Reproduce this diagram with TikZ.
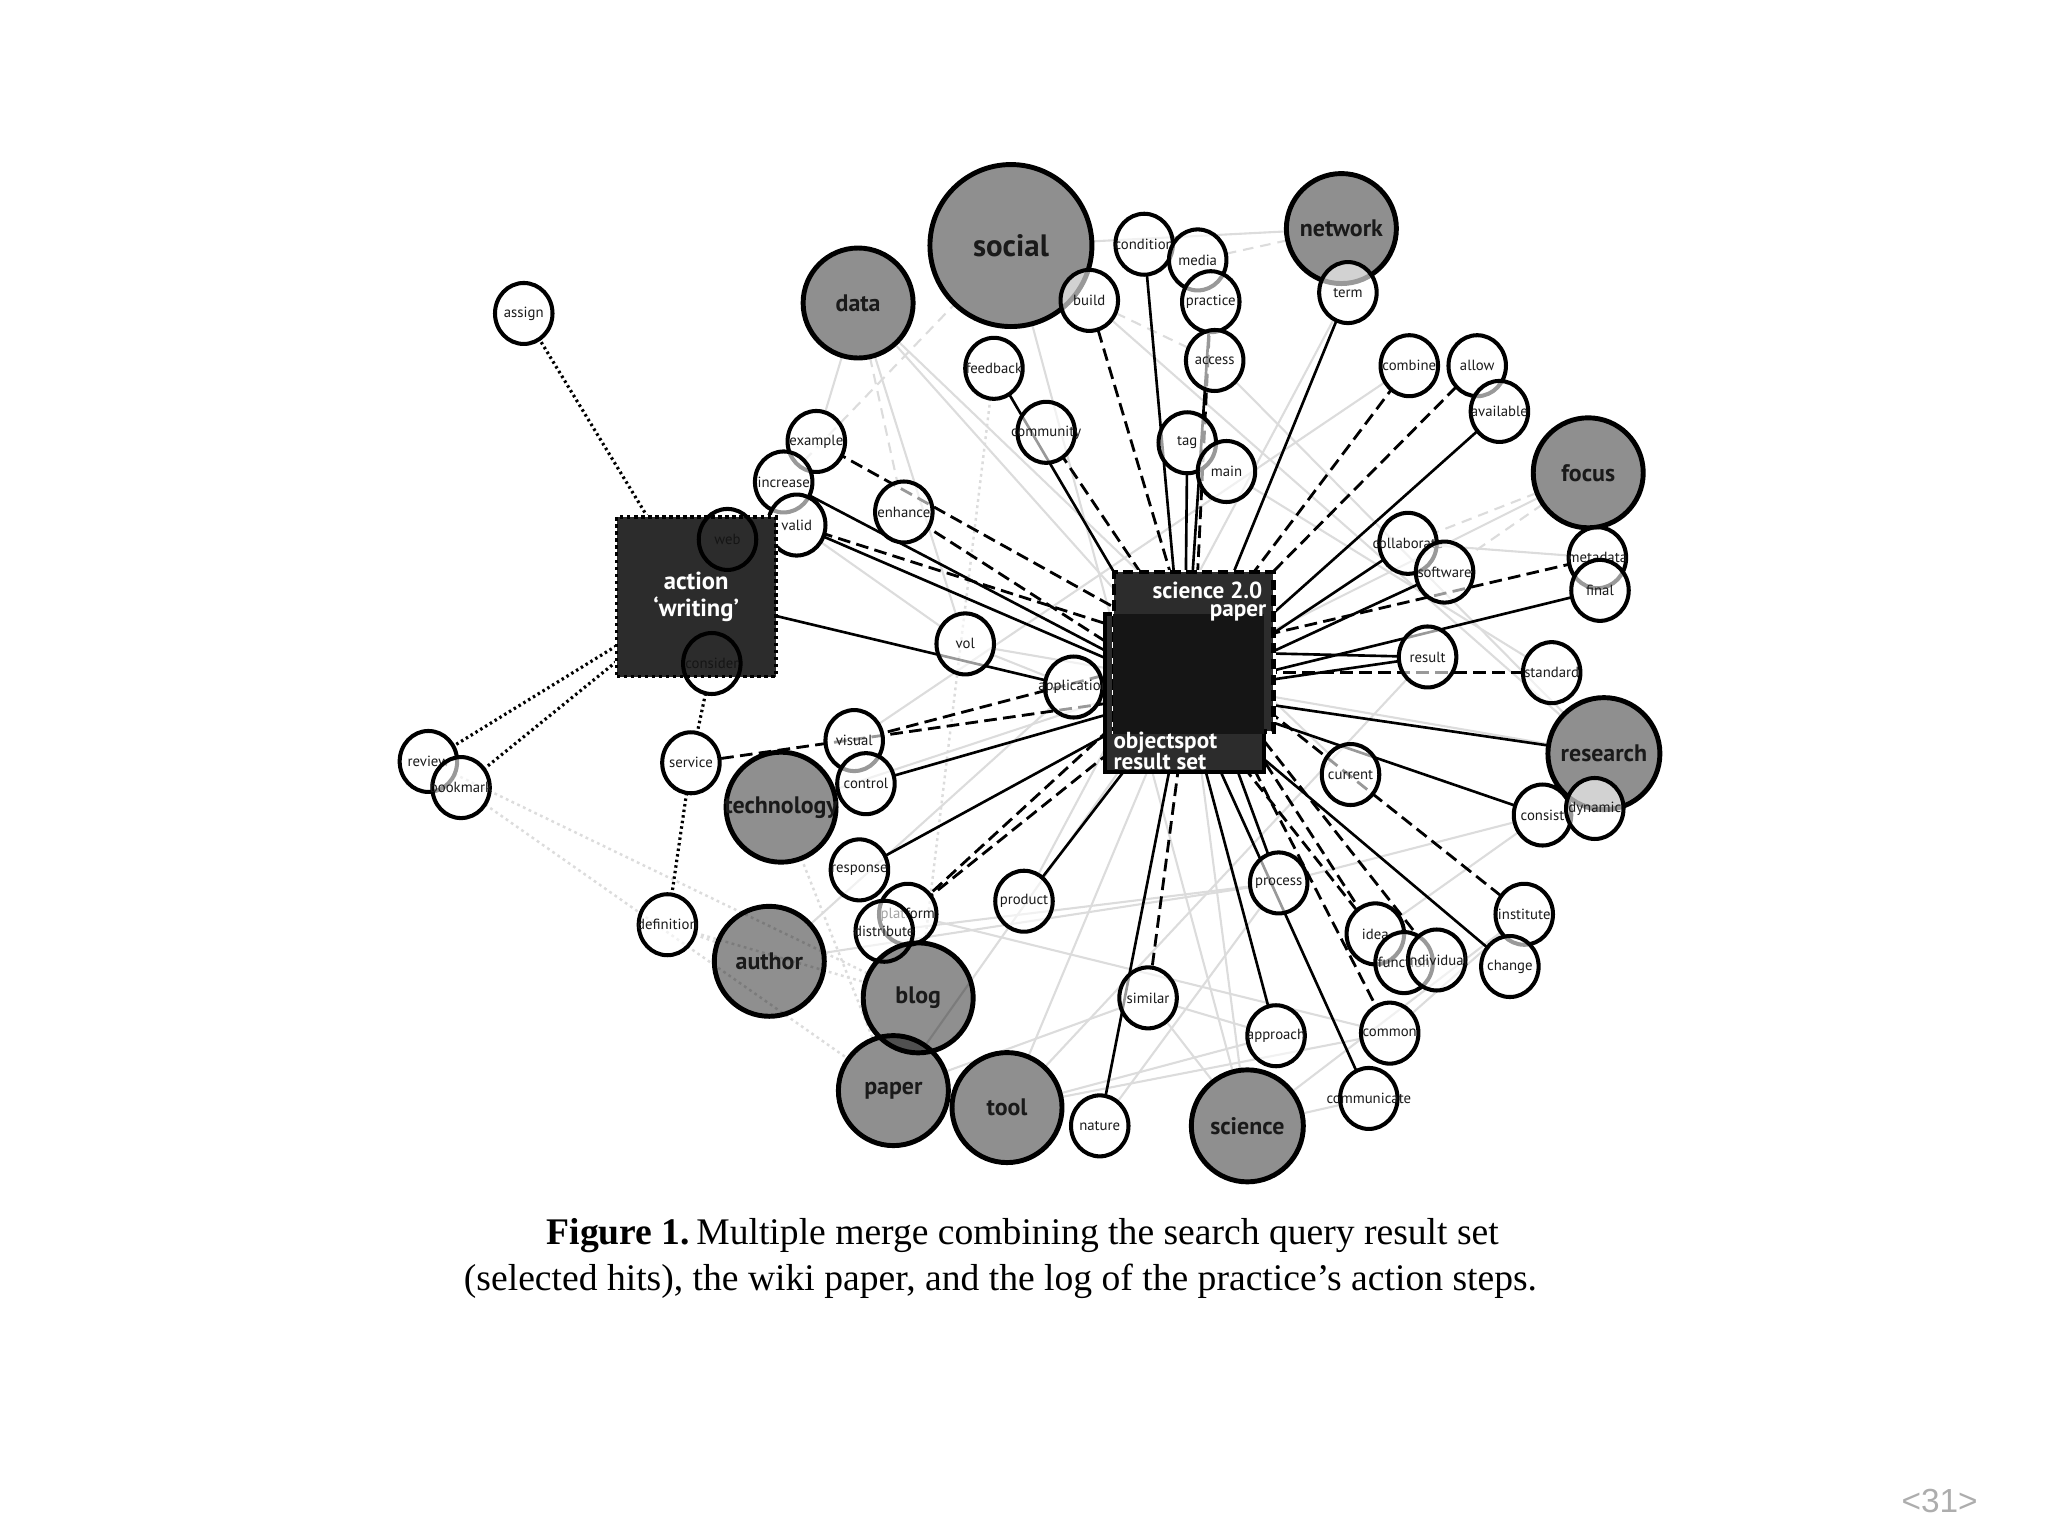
\documentclass[tikz,border=0pt]{standalone}
\usepackage{fontspec}
\setmainfont{Liberation Serif}
\newfontfamily\netfont{PT Sans}
\newfontfamily\pagefont{Liberation Sans}
\usetikzlibrary{shapes.geometric}
\definecolor{ink}{HTML}{1A1A1A}
\definecolor{boxgrey}{HTML}{2C2C2C}
\definecolor{overlapgrey}{HTML}{151515}
\definecolor{faintgrey}{HTML}{DCDCDC}
\definecolor{pagegrey}{HTML}{ADADAD}
\pgfdeclarelayer{links}
\pgfsetlayers{links,main}

\begin{document}
\begin{tikzpicture}[x=0.01306cm, y=-0.01306cm,
  zerobox/.style={execute at begin node={\hbox to 0pt\bgroup\hss},
                  execute at end node={\hss\egroup}},
  hit/.style={zerobox, ellipse, draw=black, line width=1.15pt, fill=white,
              fill opacity=0.6, text opacity=1, text=ink, inner sep=0pt, outer sep=0pt,
              minimum width=5.75mm, minimum height=6.1mm,
              font=\netfont\fontsize{4.2}{5}\selectfont},
  hiddenhit/.style={hit, fill=none, text=overlapgrey},
  topic/.style={zerobox, circle, draw=black, line width=1.4pt, fill=black,
                fill opacity=0.44, text opacity=1, text=ink, inner sep=0pt, outer sep=0pt,
                minimum size=11mm, font=\netfont\bfseries\fontsize{6.8}{7}\selectfont},
  solidlink/.style={black, line width=0.75pt},
  dashlink/.style={black, line width=0.8pt, dash pattern=on 3.6pt off 1.8pt},
  dotlink/.style={black, line width=0.9pt, dash pattern=on 0.7pt off 0.9pt},
  greylink/.style={faintgrey, line width=0.6pt},
  greydash/.style={faintgrey, line width=0.6pt, dash pattern=on 3pt off 2pt},
  greydot/.style={faintgrey, line width=0.7pt, dash pattern=on 0.8pt off 1pt},
  actionbox/.style={rectangle, fill=boxgrey, draw=black, line width=1.1pt,
                    dash pattern=on 1pt off 1pt, preaction={draw=white, solid, line width=1.1pt},
                    minimum size=15.93mm, inner sep=0pt, outer sep=0pt, text=white, align=center,
                    font=\netfont\bfseries\fontsize{7}{7.8}\selectfont},
  paperbox/.style={rectangle, fill=boxgrey, draw=black, line width=1.2pt,
                   dash pattern=on 3pt off 1.5pt, preaction={draw=white, solid, line width=1.2pt},
                   minimum size=15.93mm, inner sep=0pt, outer sep=0pt},
  resultbox/.style={rectangle, fill=boxgrey, draw=black, line width=1.2pt,
                    minimum width=15.93mm, minimum height=15.8mm, inner sep=0pt, outer sep=0pt},
  boxlabel/.style={text=white, inner sep=0pt, font=\netfont\bfseries\fontsize{6.6}{7}\selectfont},
  captext/.style={inner sep=0pt, text=black, font=\fontsize{10.7}{12}\selectfont},
  pagemark/.style={inner sep=0pt, text=pagegrey, font=\pagefont\fontsize{9.5}{10}\selectfont}]

  \useasboundingbox (0,0) rectangle (1568,1176);

  % --- topic circles (grey) ---
  \node[topic, minimum size=16.2mm, font=\netfont\bfseries\fontsize{8.8}{9}\selectfont]
        (social) at (774,188) {social};
  \node[topic] (data)       at (657,232) {data};
  \node[topic] (network)    at (1027,175) {network};
  \node[topic] (focus)      at (1216,362) {focus};
  \node[topic, minimum size=11.2mm] (research) at (1228,577) {research};
  \node[topic] (technology) at (598,618) {technology};
  \node[topic] (author)     at (589,736) {author};
  \node[topic] (tool)       at (771,848) {tool};
  \node[topic, minimum size=11.2mm] (science) at (955,862) {science};

  % --- word circles, upper half ---
  \node[hit] (assign)      at (401,240) {assign};
  \node[hit] (example)     at (625,338) {example};
  \node[hit] (increase)    at (600,369) {increase};
  \node[hit] (valid)       at (610,402) {valid};
  \node[hit] (enhance)     at (692,392) {enhance};
  \node[hit] (feedback)    at (761,282) {feedback};
  \node[hit] (community)   at (801,331) {community};
  \node[hit] (build)       at (834,230) {build};
  \node[hit] (condition)   at (876,187) {condition};
  \node[hit] (media)       at (917,199) {media};
  \node[hit] (practice)    at (927,231) {practice};
  \node[hit] (access)      at (930,276) {access};
  \node[hit] (tag)         at (909,339) {tag};
  \node[hit] (main)        at (939,361) {main};
  \node[hit] (term)        at (1032,224) {term};
  \node[hit] (combine)     at (1079,280) {combine};
  \node[hit] (allow)       at (1131,280) {allow};
  \node[hit] (available)   at (1148,315) {available};
  \node[hit] (collaborate) at (1078,416) {collaborate};
  \node[hit] (software)    at (1106,438) {software};
  \node[hit] (metadata)    at (1223,427) {metadata};
  \node[hit] (final)       at (1225,452) {final};
  \node[hit] (result)      at (1093,503) {result};
  \node[hit] (standard)    at (1188,515) {standard};
  \node[hit] (vol)         at (739,493) {vol};
  \node[hit] (application) at (822,526) {application};

  % --- word circles, lower half ---
  \node[hit] (review)      at (328,583) {review};
  \node[hit] (bookmark)    at (353,603) {bookmark};
  \node[hit] (service)     at (529,584) {service};
  \node[hit] (visual)      at (654,567) {visual};
  \node[hit] (control)     at (663,600) {control};
  \node[hit] (current)     at (1034,593) {current};
  \node[hit] (consist)     at (1181,624) {consist};
  \node[hit] (dynamic)     at (1221,619) {dynamic};
  \node[hit] (response)    at (658,666) {response};
  \node[hit] (platform)    at (695,700) {platform};
  \node[hit] (distribute)  at (677,713) {distribute};
  \node[topic] (blog)      at (703,764) {blog};
  \node[topic] (paper)     at (684,835) {paper};
  \node[hit] (product)     at (784,690) {product};
  \node[hit] (process)     at (979,676) {process};
  \node[hit] (institute)   at (1167,700) {institute};
  \node[hit] (idea)        at (1053,715) {idea};
  \node[hit] (function)    at (1075,737) {function};
  \node[hit] (individual)  at (1100,735) {individual};
  \node[hit] (change)      at (1156,740) {change};
  \node[hit] (definition)  at (511,708) {definition};
  \node[hit] (similar)     at (879,764) {similar};
  \node[hit] (approach)    at (977,793) {approach};
  \node[hit] (common)      at (1064,791) {common};
  \node[hit] (communicate) at (1048,841) {communicate};
  \node[hit] (nature)      at (842,862) {nature};

  % --- action log box, with the two words it hides ---
  \node[actionbox] (action) at (533,457) {action\\‘writing’};
  \node[hiddenhit] (web)      at (557,413) {web};
  \node[hiddenhit] (consider) at (545,508) {consider};

  % --- merged boxes: search result set and wiki paper ---
  \node[resultbox] (objectspot) at (907,530.5) {};
  \node[paperbox] (sciencepaper) at (914,499) {};
  \fill[overlapgrey] (852,470) rectangle (968,562);
  \node[boxlabel, anchor=base east] (sciencelabel) at (967,458) {science 2.0};
  \node[boxlabel, anchor=base east] (paperlabel)   at (970,472) {paper};
  \node[boxlabel, anchor=base west] (objectlabel)  at (852,573) {objectspot};
  \node[boxlabel, anchor=base west] (setlabel)     at (852,589) {result set};

  \coordinate (os)  at (907,530);
  \coordinate (sp)  at (914,499);
  \coordinate (mid) at (910,515);

  % ===================== LINKS =====================
  \begin{pgfonlayer}{links}
    % faint co-occurrence web
    \foreach \a/\b in {social/network, data/current, data/vol, social/science,
        build/research, example/data, valid/vol, vol/application,
        author/process, distribute/process, platform/common, tool/approach,
        tool/result, paper/similar, science/similar, science/communicate,
        science/institute, similar/approach, nature/process, consist/process,
        research/vol, metadata/collaborate, term/product, common/institute,
        idea/consist, combine/visual, access/research, main/standard,
        author/application, tool/common}
      \draw[greylink] (\a) -- (\b);
    \foreach \b in {science, tool, paper, technology, focus, data}
      \draw[greylink] (mid) -- (\b);
    \foreach \a/\b in {media/network, focus/software, focus/collaborate, build/access,
        increase/social, data/enhance}
      \draw[greydash] (\a) -- (\b);
    \foreach \a/\b in {bookmark/paper, review/blog, definition/blog, technology/paper,
        feedback/blog, definition/author}
      \draw[greydot] (\a) -- (\b);

    % result set hits
    \foreach \n in {feedback, condition, tag, term, available, collaborate, software,
        final, result, research, consist, change, approach, communicate, nature,
        product, response, control, increase, valid, practice, application}
      \draw[solidlink] (os) -- (\n);
    \foreach \n in {process, result}
      \draw[solidlink] (sp) -- (\n);
    % wiki paper words
    \foreach \n in {community, build, practice, combine, allow, metadata, institute,
        idea, individual, common, similar, platform, visual, example, valid}
      \draw[dashlink] (sp) -- (\n);
    \foreach \n in {platform, idea, enhance, service}
      \draw[dashlink] (os) -- (\n);
    \draw[dashlink] (mid) -- (standard);
    \draw[solidlink] (action) -- (application);

    % action steps
    \foreach \n in {assign, review, bookmark}
      \draw[dotlink] (action) -- (\n);
    \draw[dotlink] (consider) -- (service);
    \draw[dotlink] (service) -- (definition);
  \end{pgfonlayer}

  % --- caption and page mark ---
  \node[captext] (capone) at (783,946)
    {\textbf{Figure 1.}\,Multiple merge combining the search query result set};
  \node[captext] (captwo) at (766,981)
    {(selected hits), the wiki paper, and the log of the practice’s action steps.};
  \node[pagemark] (pagenum) at (1485,1149) {<31>};

\end{tikzpicture}
\end{document}
